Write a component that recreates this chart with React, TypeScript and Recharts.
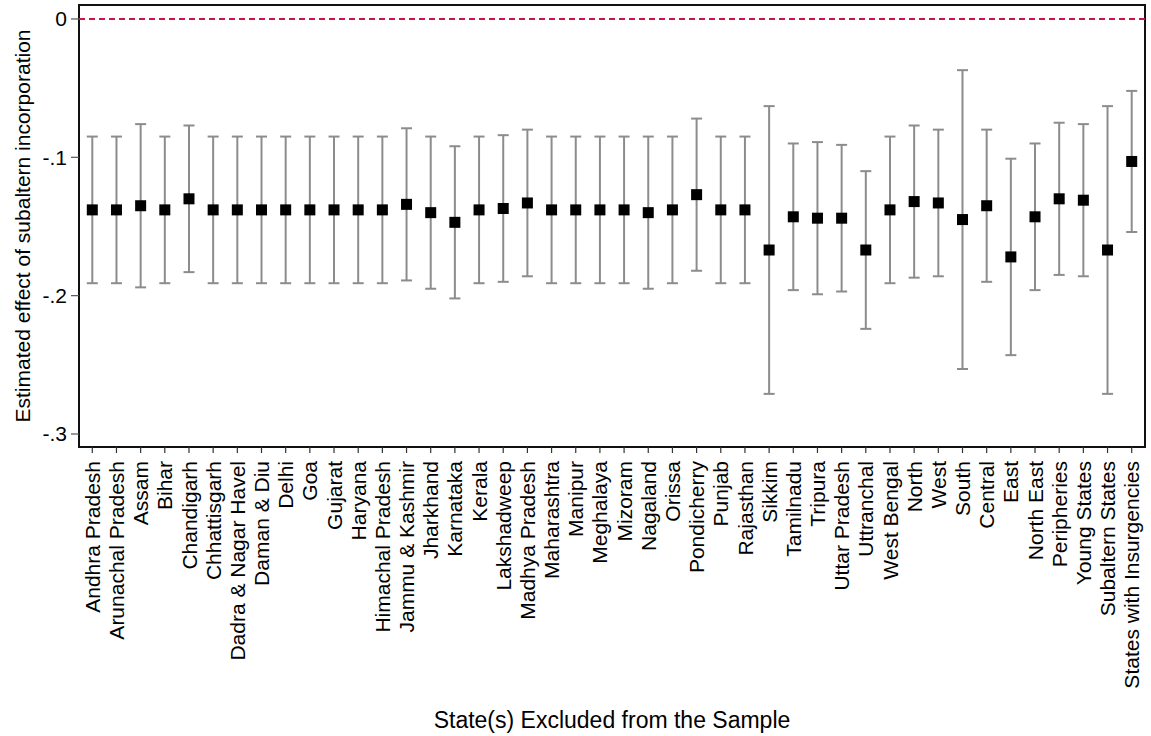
import React from "react";
import {
  ComposedChart,
  Scatter,
  ErrorBar,
  XAxis,
  YAxis,
  ReferenceLine,
  ReferenceArea,
} from "recharts";

const states = [
  "Andhra Pradesh", "Arunachal Pradesh", "Assam", "Bihar", "Chandigarh",
  "Chhattisgarh", "Dadra & Nagar Havel", "Daman & Diu", "Delhi", "Goa",
  "Gujarat", "Haryana", "Himachal Pradesh", "Jammu & Kashmir", "Jharkhand",
  "Karnataka", "Kerala", "Lakshadweep", "Madhya Pradesh", "Maharashtra",
  "Manipur", "Meghalaya", "Mizoram", "Nagaland", "Orissa", "Pondicherry",
  "Punjab", "Rajasthan", "Sikkim", "Tamilnadu", "Tripura", "Uttar Pradesh",
  "Uttranchal", "West Bengal", "North", "West", "South", "Central", "East",
  "North East", "Peripheries", "Young States", "Subaltern States",
  "States with Insurgencies",
];

const estimates = [
  -0.138, -0.138, -0.135, -0.138, -0.130, -0.138, -0.138, -0.138, -0.138, -0.138,
  -0.138, -0.138, -0.138, -0.134, -0.140, -0.147, -0.138, -0.137, -0.133, -0.138,
  -0.138, -0.138, -0.138, -0.140, -0.138, -0.127, -0.138, -0.138, -0.167, -0.143,
  -0.144, -0.144, -0.167, -0.138, -0.132, -0.133, -0.145, -0.135, -0.172, -0.143,
  -0.130, -0.131, -0.167, -0.103,
];

const lower = [
  -0.191, -0.191, -0.194, -0.191, -0.183, -0.191, -0.191, -0.191, -0.191, -0.191,
  -0.191, -0.191, -0.191, -0.189, -0.195, -0.202, -0.191, -0.190, -0.186, -0.191,
  -0.191, -0.191, -0.191, -0.195, -0.191, -0.182, -0.191, -0.191, -0.271, -0.196,
  -0.199, -0.197, -0.224, -0.191, -0.187, -0.186, -0.253, -0.190, -0.243, -0.196,
  -0.185, -0.186, -0.271, -0.154,
];

const upper = [
  -0.085, -0.085, -0.076, -0.085, -0.077, -0.085, -0.085, -0.085, -0.085, -0.085,
  -0.085, -0.085, -0.085, -0.079, -0.085, -0.092, -0.085, -0.084, -0.080, -0.085,
  -0.085, -0.085, -0.085, -0.085, -0.085, -0.072, -0.085, -0.085, -0.063, -0.090,
  -0.089, -0.091, -0.110, -0.085, -0.077, -0.080, -0.037, -0.080, -0.101, -0.090,
  -0.075, -0.076, -0.063, -0.052,
];

const yTicks = [0, -0.1, -0.2, -0.3];

const FONT = "'Liberation Sans', Arial, Helvetica, sans-serif";

const data = states.map((name, i) => ({
  i,
  name,
  est: estimates[i],
  err: [estimates[i] - lower[i], upper[i] - estimates[i]],
}));

const fmtY = (v: number) => {
  if (v === 0) return "0";
  return (v < 0 ? "-" : "") + Math.abs(v).toFixed(1).replace(/^0/, "");
};

function StateTick(props: any) {
  const { x, y, payload } = props;
  return (
    <g transform={`translate(${x},${y})`}>
      <text
        transform="rotate(-90)"
        x={-6}
        y={0}
        dy="0.36em"
        textAnchor="end"
        fontSize={21}
        fontFamily={FONT}
        fill="#000"
      >
        {states[payload.value]}
      </text>
    </g>
  );
}

function Square(props: any) {
  const { cx, cy } = props;
  return <rect x={cx - 5.5} y={cy - 5.5} width={11} height={11} fill="#000" />;
}

export default function App() {
  return (
    <div style={{ position: "absolute", left: 0, top: 0, background: "#fff" }}>
      <ComposedChart
        width={1151}
        height={736}
        data={data}
        margin={{ top: 5, right: 6, left: 0, bottom: 0 }}
      >
        <XAxis
          type="number"
          dataKey="i"
          domain={[-0.55, 43.55]}
          ticks={states.map((_, i) => i)}
          interval={0}
          tick={<StateTick />}
          tickSize={6}
          tickLine={{ stroke: "#333", strokeWidth: 1.2 }}
          axisLine={false}
          height={289}
          label={{
            value: "State(s) Excluded from the Sample",
            position: "insideBottom",
            offset: 8,
            fontSize: 23,
            fontFamily: FONT,
            fill: "#000",
          }}
        />
        <YAxis
          type="number"
          dataKey="est"
          domain={[-0.3094, 0.0101]}
          ticks={yTicks}
          tickFormatter={fmtY}
          tickSize={8}
          tickMargin={4}
          tickLine={{ stroke: "#555", strokeWidth: 1.2 }}
          axisLine={false}
          width={79}
          tick={{ fontSize: 21, fontFamily: FONT, fill: "#000" }}
          label={{
            value: "Estimated effect of subaltern incorporation",
            angle: -90,
            position: "center",
            dx: -17,
            fontSize: 21,
            fontFamily: FONT,
            fill: "#000",
          }}
        />
        <ReferenceArea
          x1={-0.55}
          x2={43.55}
          y1={-0.3094}
          y2={0.0101}
          fill="none"
          stroke="#111"
          strokeWidth={2}
          fillOpacity={0}
        />
        <ReferenceLine
          y={0}
          stroke="#c8164b"
          strokeWidth={2}
          strokeDasharray="6 4"
        />
        <Scatter dataKey="est" shape={<Square />} isAnimationActive={false}>
          <ErrorBar
            dataKey="err"
            direction="y"
            width={5.5}
            stroke="#8c8c8c"
            strokeWidth={2}
            isAnimationActive={false}
          />
        </Scatter>
      </ComposedChart>
    </div>
  );
}
